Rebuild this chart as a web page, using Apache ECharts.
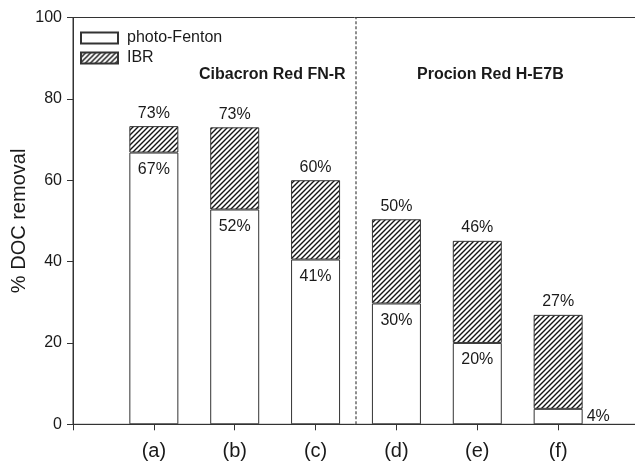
<!DOCTYPE html>
<html>
<head>
<meta charset="utf-8">
<script src="https://cdn.jsdelivr.net/npm/echarts@6/dist/echarts.min.js"></script>
<style>html,body{margin:0;padding:0;background:#fff;}#c{width:635px;height:461px;}</style>
</head>
<body>
<div id="c"></div>
<script>
const categories = ['(a)', '(b)', '(c)', '(d)', '(e)', '(f)'];
const photoFenton = [66.8, 52.8, 40.5, 29.7, 20.0, 3.8];
const ibr = [6.5, 20.2, 19.5, 20.7, 25.1, 23.1];
const innerLabels = ['67%', '52%', '41%', '30%', '20%', '4%'];
const topLabels = ['73%', '73%', '60%', '50%', '46%', '27%'];
const yTicks = [0, 20, 40, 60, 80, 100];
const groupTitles = ['Cibacron Red FN-R', 'Procion Red H-E7B'];
const dividerX = 3.5;
const dividerY = [0, 100];

const FONT = '"Liberation Sans", Arial, sans-serif';
const TXT = '#1a1a1a';
const AX = '#333';

// padded category list: empty slot at each end so the axis spans 0..7
const axisCats = [''].concat(categories, ['']);

// hatch pattern
const pc = document.createElement('canvas');
pc.width = 5; pc.height = 5;
const ctx = pc.getContext('2d');
ctx.fillStyle = '#fff';
ctx.fillRect(0, 0, 5, 5);
ctx.strokeStyle = '#151515';
ctx.lineWidth = 1.4;
ctx.beginPath();
ctx.moveTo(-1, 6); ctx.lineTo(6, -1);
ctx.moveTo(-1, 1); ctx.lineTo(1, -1);
ctx.moveTo(4, 6); ctx.lineTo(6, 4);
ctx.stroke();
const hatch = { image: pc, repeat: 'repeat' };

const chart = echarts.init(document.getElementById('c'), null, { renderer: 'canvas' });
chart.setOption({
  animation: false,
  backgroundColor: '#fff',
  textStyle: { fontFamily: FONT },
  grid: { left: 73, top: 17.5, right: -4, bottom: 36.7, outerBoundsMode: 'none', containLabel: false,
    show: true, borderColor: AX, borderWidth: 1, backgroundColor: 'transparent' },
  legend: {
    left: 80, top: 30, padding: 0, orient: 'vertical', itemWidth: 37, itemHeight: 11, itemGap: 4,
    icon: 'rect',
    textStyle: { fontSize: 16, color: TXT, fontFamily: FONT, padding: [0, 0, 0, 4] },
    data: ['photo-Fenton', 'IBR']
  },
  xAxis: [
    {
      type: 'category', data: axisCats, boundaryGap: false,
      axisLine: { lineStyle: { color: AX, width: 1 } },
      axisTick: { show: true, length: 6, interval: 0, lineStyle: { color: AX } },
      axisLabel: { fontSize: 20, color: TXT, margin: 17, interval: 0, fontFamily: FONT },
      splitLine: { show: false }
    },
    {
      type: 'value', min: 0, max: categories.length + 1, show: false
    }
  ],
  yAxis: {
    type: 'value', min: 0, max: 100, interval: 20,
    name: '% DOC removal', nameLocation: 'middle', nameGap: 44, nameMoveOverlap: false,
    nameTextStyle: { fontSize: 20, color: TXT, fontFamily: FONT },
    axisLine: { show: true, lineStyle: { color: AX, width: 1 } },
    axisTick: { show: true, length: 6, lineStyle: { color: AX } },
    axisLabel: { fontSize: 16, color: TXT, margin: 11, fontFamily: FONT,
      formatter: v => yTicks.includes(v) ? String(v) : '' },
    splitLine: { show: false }
  },
  series: [
    {
      name: 'photo-Fenton', type: 'bar', stack: 'doc', barWidth: 49,
      itemStyle: { color: '#fff', borderColor: AX, borderWidth: 1 },
      label: { show: true, position: 'insideTop', distance: 9, fontSize: 16, color: TXT, fontFamily: FONT,
        formatter: p => innerLabels[p.dataIndex] },
      data: photoFenton.map((v, i) => i === photoFenton.length - 1
        ? { value: [i + 1, v], label: { position: 'right', distance: 4 } }
        : { value: [i + 1, v] })
    },
    {
      name: 'IBR', type: 'bar', stack: 'doc', barWidth: 49,
      itemStyle: { color: hatch, borderColor: AX, borderWidth: 1 },
      label: { show: true, position: 'top', distance: 5, fontSize: 16, color: TXT, fontFamily: FONT,
        formatter: p => topLabels[p.dataIndex] },
      data: ibr.map((v, i) => [i + 1, v])
    },
    {
      name: 'divider', type: 'line', xAxisIndex: 1, symbol: 'none', silent: true,
      lineStyle: { type: [3, 2], color: '#444', width: 1.2 },
      data: dividerY.map(y => [dividerX, y]),
      z: 1
    }
  ],
  graphic: [
    { type: 'text', left: 199, top: 67, style: { text: groupTitles[0], font: 'bold 16px ' + FONT, fill: TXT } },
    { type: 'text', left: 417, top: 67, style: { text: groupTitles[1], font: 'bold 16px ' + FONT, fill: TXT } }
  ]
});
</script>
</body>
</html>
